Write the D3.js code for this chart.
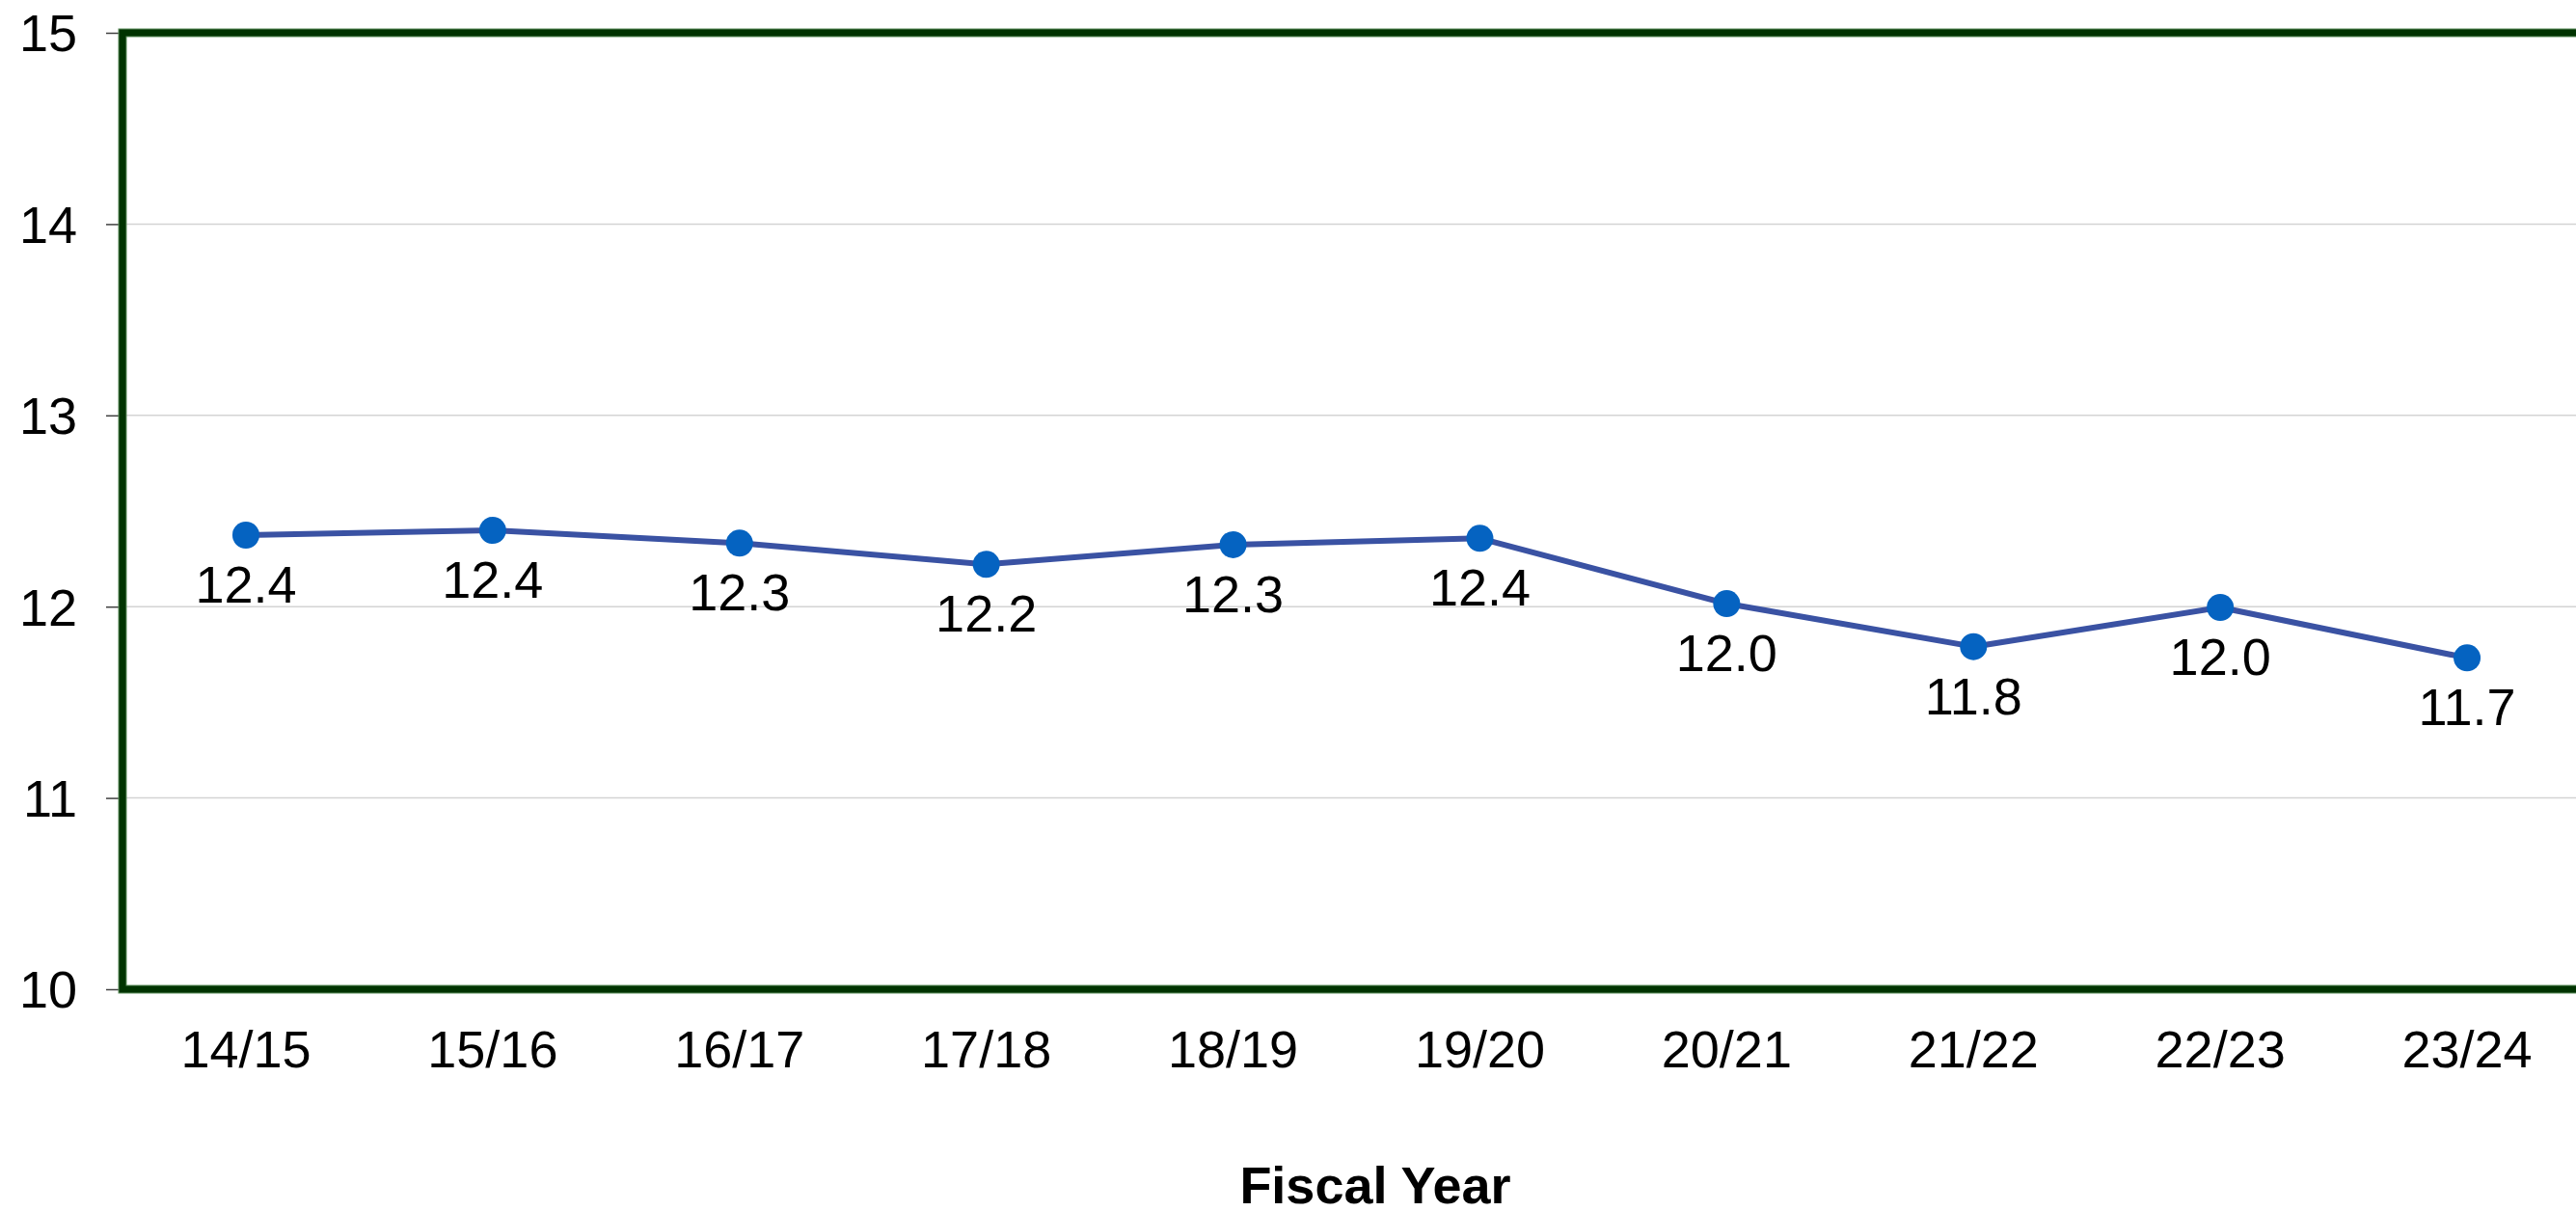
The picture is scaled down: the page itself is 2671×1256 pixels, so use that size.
<!DOCTYPE html>
<html>
<head>
<meta charset="utf-8">
<script src="https://cdn.jsdelivr.net/npm/d3@7"></script>
<style>
  html, body { margin: 0; padding: 0; background: #ffffff; }
  svg { display: block; }
  text { font-family: "Liberation Sans", Arial, sans-serif; }
</style>
</head>
<body>
<svg id="chart" width="2671" height="1256"></svg>
<script>
// Fiscal years shown along the bottom
const categories = ["14/15", "15/16", "16/17", "17/18", "18/19", "19/20", "20/21", "21/22", "22/23", "23/24"];
// Yearly values of the series
const values = [12.374, 12.399, 12.332, 12.221, 12.324, 12.357, 12.016, 11.791, 11.996, 11.732];
// Value-axis ticks
const yTicks = [10, 11, 12, 13, 14, 15];
const xTitle = "Fiscal Year";

const svg = d3.select("#chart");

const plot = { left: 127, right: 2686, top: 34, bottom: 1026 };

const x = d3.scaleBand()
  .domain(categories)
  .range([plot.left, plot.right])
  .padding(0);
const cx = d => x(d) + x.bandwidth() / 2;

const y = d3.scaleLinear()
  .domain([10, 15])
  .range([plot.bottom, plot.top]);

// horizontal gridlines
svg.append("g")
  .selectAll("line")
  .data(yTicks.slice(1, -1))
  .join("line")
  .attr("x1", plot.left)
  .attr("x2", plot.right)
  .attr("y1", d => y(d))
  .attr("y2", d => y(d))
  .attr("stroke", "#d4d4d4")
  .attr("stroke-width", 1.5);

// value axis with short outside ticks
const yAxis = svg.append("g")
  .attr("transform", `translate(${plot.left},0)`)
  .call(d3.axisLeft(y).tickValues(yTicks).tickSize(17).tickPadding(30).tickFormat(d3.format("d")));
yAxis.select(".domain").remove();
yAxis.selectAll(".tick line").attr("stroke", "#404040").attr("stroke-width", 1.5);
yAxis.selectAll(".tick text")
  .attr("fill", "#000")
  .attr("font-size", 54)
  .attr("dy", "0.35em");

// category axis labels
const xAxis = svg.append("g")
  .attr("transform", `translate(0,${plot.bottom})`)
  .call(d3.axisBottom(x).tickSize(0).tickPadding(0));
xAxis.select(".domain").remove();
xAxis.selectAll(".tick text")
  .attr("fill", "#000")
  .attr("font-size", 54)
  .attr("y", 81)
  .attr("dy", 0);

// dark green frame around the plot area
const frame = svg.append("g");
frame.append("rect")
  .attr("x", plot.left).attr("y", plot.top)
  .attr("width", plot.right - plot.left).attr("height", plot.bottom - plot.top)
  .attr("fill", "none")
  .attr("stroke", "#5f8f5f")
  .attr("stroke-width", 9);
frame.append("rect")
  .attr("x", plot.left).attr("y", plot.top)
  .attr("width", plot.right - plot.left).attr("height", plot.bottom - plot.top)
  .attr("fill", "none")
  .attr("stroke", "#003300")
  .attr("stroke-width", 7);

// series line
const line = d3.line()
  .x((d, i) => cx(categories[i]))
  .y(d => y(d));

svg.append("path")
  .datum(values)
  .attr("d", line)
  .attr("fill", "none")
  .attr("stroke", "#3a52a3")
  .attr("stroke-width", 6)
  .attr("stroke-linejoin", "round");

// markers
svg.append("g")
  .selectAll("circle")
  .data(values)
  .join("circle")
  .attr("cx", (d, i) => cx(categories[i]))
  .attr("cy", d => y(d))
  .attr("r", 14)
  .attr("fill", "#0563c1");

// data labels below each point
svg.append("g")
  .selectAll("text")
  .data(values)
  .join("text")
  .attr("x", (d, i) => cx(categories[i]))
  .attr("y", d => y(d) + 70)
  .attr("text-anchor", "middle")
  .attr("font-size", 54)
  .attr("fill", "#000")
  .text(d => d.toFixed(1));

// axis title
svg.append("text")
  .attr("x", 1426)
  .attr("y", 1248)
  .attr("text-anchor", "middle")
  .attr("font-size", 54)
  .attr("font-weight", "bold")
  .attr("fill", "#000")
  .text(xTitle);
</script>
</body>
</html>
